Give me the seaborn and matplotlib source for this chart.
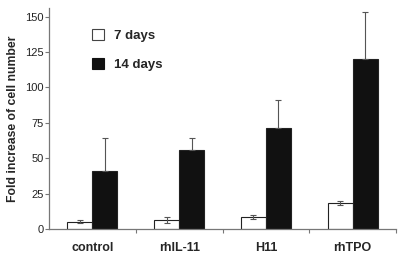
import matplotlib
matplotlib.use("Agg")
import matplotlib.pyplot as plt
import seaborn as sns
import pandas as pd
import numpy as np

categories = ["control", "rhIL-11", "H11", "rhTPO"]
series = ["7 days", "14 days"]
days7 = [5.2, 6.3, 8.5, 18.1]
days7_err = [1.0, 2.0, 1.3, 1.4]
days14 = [41.0, 55.6, 71.6, 120.2]
days14_err = [23.0, 9.0, 19.7, 33.0]

df = pd.DataFrame({
    "cat": categories * 2,
    "series": [series[0]] * 4 + [series[1]] * 4,
    "val": days7 + days14,
})

sns.set_style("white")
plt.rcParams['font.family'] = ['Liberation Sans', 'DejaVu Sans']

fig = plt.figure(figsize=(4.0, 2.58), dpi=100)
ax = fig.add_axes([0.1225, 0.112, 0.8675, 0.857])

sns.barplot(data=df, x="cat", y="val", hue="series", order=categories,
            hue_order=series, palette=["white", "#111111"], width=0.575,
            edgecolor="#222222", linewidth=0.8, errorbar=None, ax=ax,
            legend=False)

# error bars
bars = ax.patches
for i, p in enumerate(bars[:4]):
    x = p.get_x() + p.get_width() / 2
    ax.errorbar(x, days7[i], yerr=days7_err[i], fmt="none", ecolor="#555555",
                elinewidth=0.8, capsize=2, capthick=0.8)
for i, p in enumerate(bars[4:8]):
    x = p.get_x() + p.get_width() / 2
    ax.errorbar(x, days14[i], yerr=[[0], [days14_err[i]]], fmt="none",
                ecolor="#555555", elinewidth=0.8, capsize=2, capthick=0.8)

ax.set_xlim(-0.5, 3.5)
ax.set_ylim(0, 156)
ax.set_yticks([0, 25, 50, 75, 100, 125, 150])
ax.tick_params(axis="y", labelsize=8, length=3, width=0.8, color="#777777",
               direction="out", left=True, pad=1, labelcolor="#222222")

ax.set_xticks([0.5, 1.5, 2.5, 3.5])
ax.set_xticklabels([])
ax.set_xticks([0, 1, 2, 3], minor=True)
ax.set_xticklabels(categories, minor=True, fontsize=9, fontweight="bold")
ax.tick_params(axis="x", which="major", length=3, width=0.8, color="#777777",
               direction="out", bottom=True)
ax.tick_params(axis="x", which="minor", length=0, pad=9)

ax.set_xlabel("")
ax.set_ylabel("Fold increase of cell number", fontsize=8.8, fontweight="bold",
              labelpad=4)

for s in ["top", "right"]:
    ax.spines[s].set_visible(False)
for s in ["left", "bottom"]:
    ax.spines[s].set_color("#777777")
    ax.spines[s].set_linewidth(0.9)

# legend
from matplotlib.patches import Patch
handles = [Patch(facecolor="white", edgecolor="#444444", linewidth=0.8),
           Patch(facecolor="#111111", edgecolor="#111111", linewidth=0.8)]
leg = ax.legend(handles, series, loc="upper left", bbox_to_anchor=(0.09, 0.96),
                frameon=False, prop={"weight": "bold", "size": 9.5},
                handlelength=0.9, handleheight=0.9, labelspacing=1.2,
                handletextpad=0.75)

fig.savefig("out.png", dpi=100)
